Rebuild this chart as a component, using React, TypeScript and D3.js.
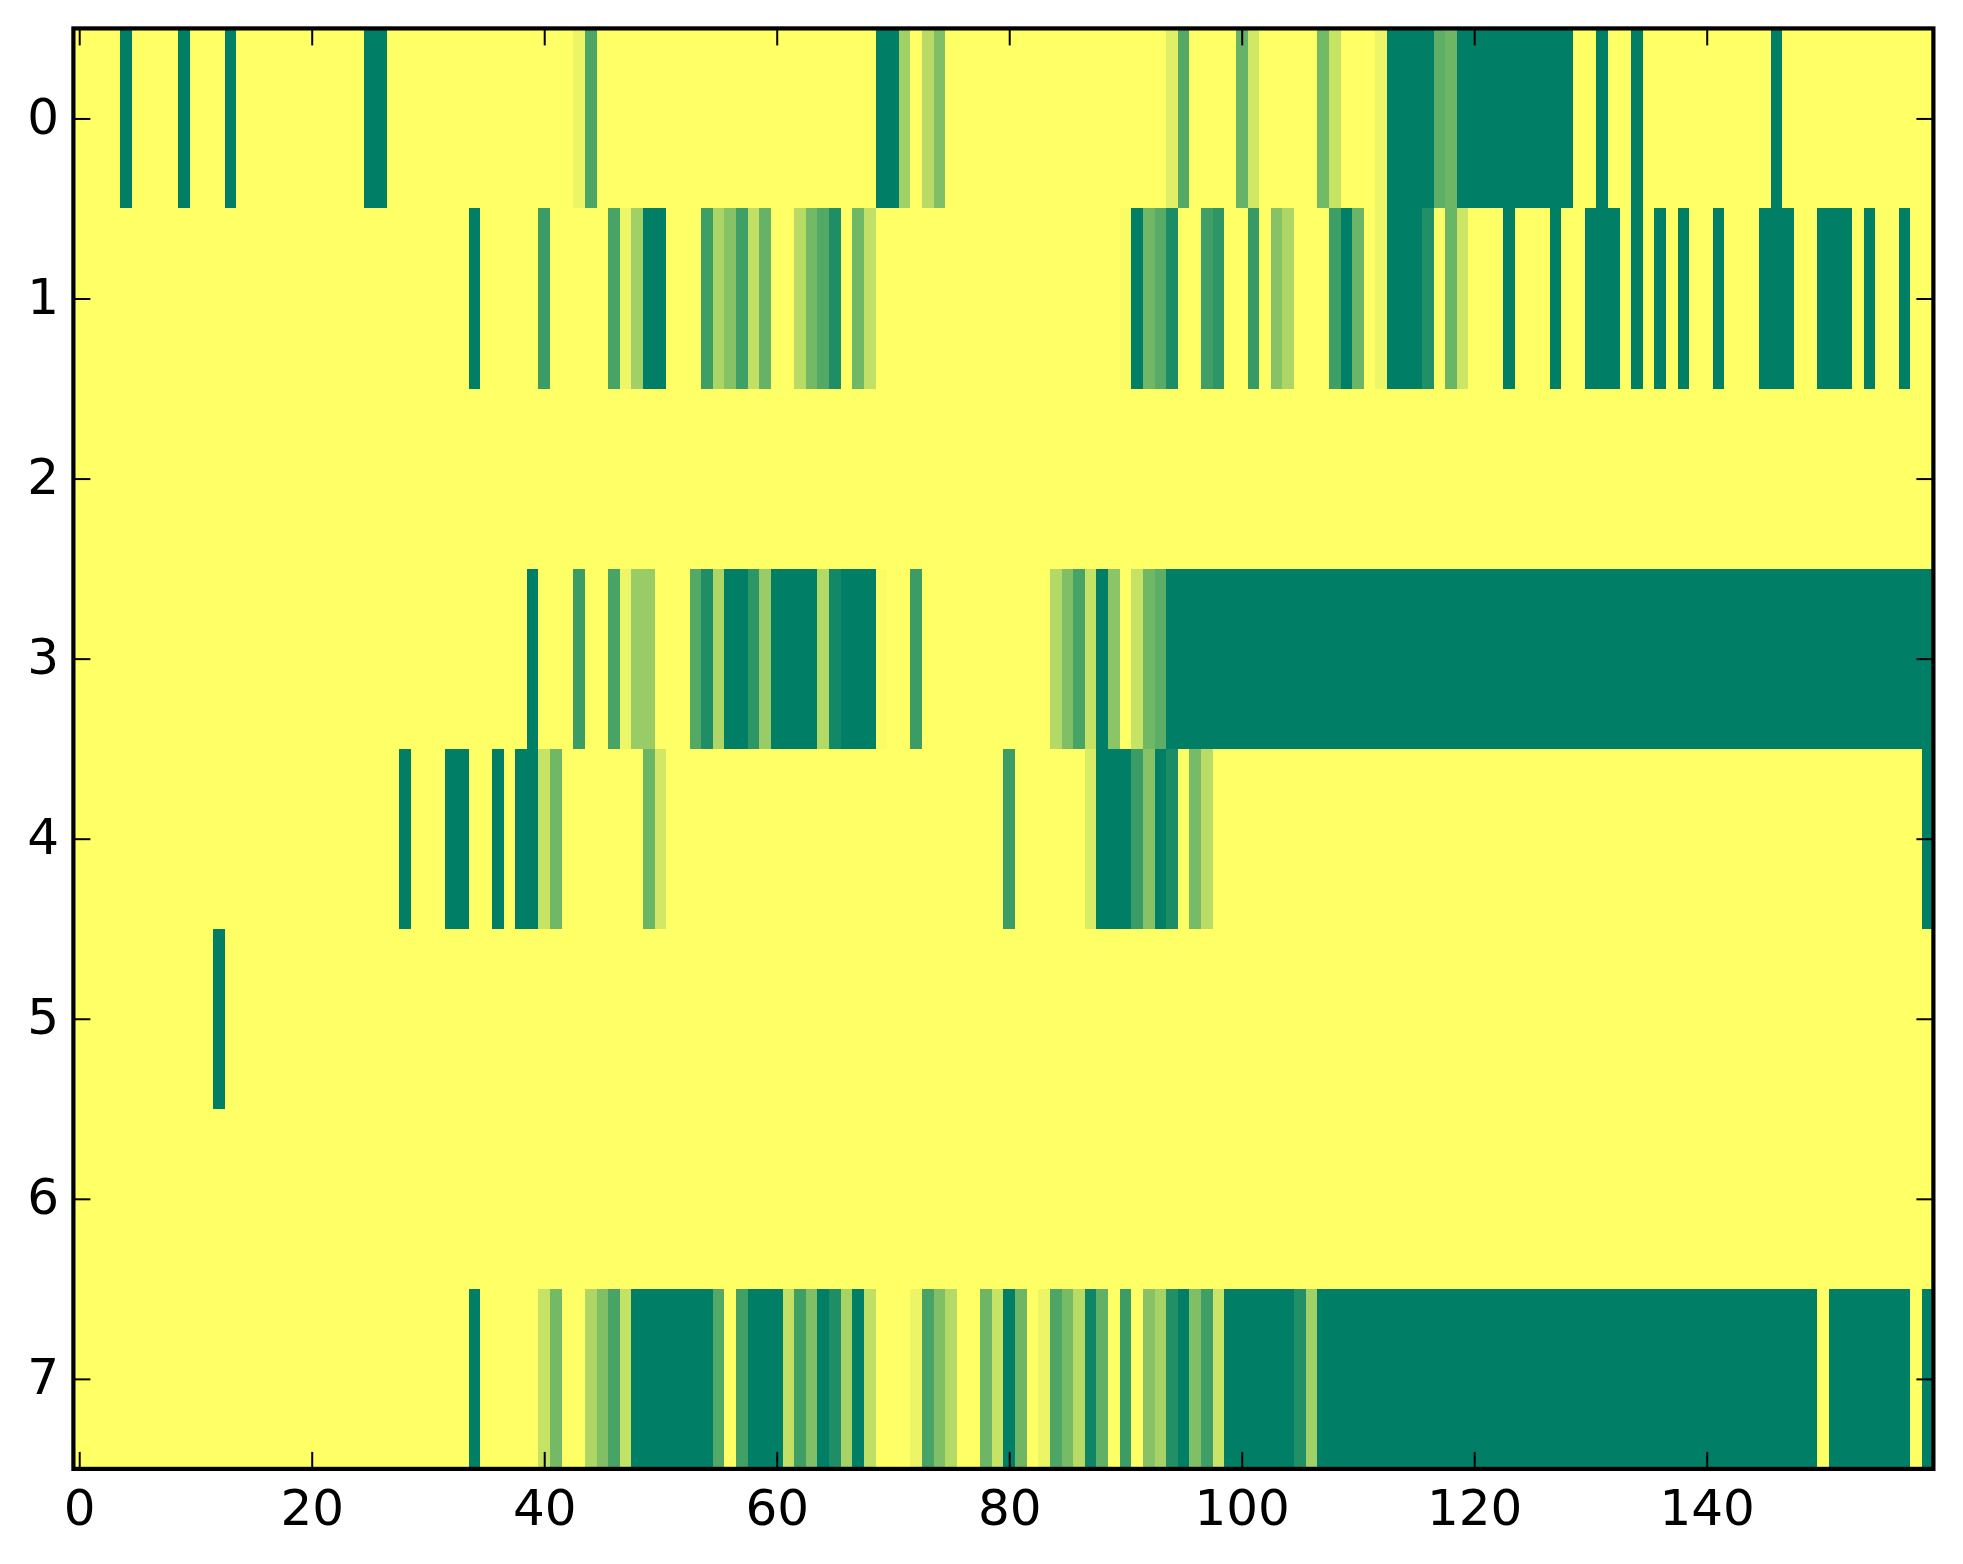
import * as React from 'react';
import * as d3 from 'd3';

// heatmap values, 0 = yellow end of the colormap, 1 = green end. 160 columns per row.
const row0 = [
  0, 0, 0, 0, 1, 0, 0, 0, 0, 1,
  0, 0, 0, 1, 0, 0, 0, 0, 0, 0,
  0, 0, 0, 0, 0, 1, 1, 0, 0, 0,
  0, 0, 0, 0, 0, 0, 0, 0, 0, 0,
  0, 0, 0, .08, .7, 0, 0, 0, 0, 0,
  0, 0, 0, 0, 0, 0, 0, 0, 0, 0,
  0, 0, 0, 0, 0, 0, 0, 0, 0, 1,
  1, .37, 0, .28, .5, 0, 0, 0, 0, 0,
  0, 0, 0, 0, 0, 0, 0, 0, 0, 0,
  0, 0, 0, 0, .12, .67, 0, 0, 0, 0,
  .6, .18, 0, 0, 0, 0, 0, .55, .22, 0,
  0, 0, .07, 1, 1, 1, 1, .63, .57, 1,
  1, 1, 1, 1, 1, 1, 1, 1, 1, 0,
  0, 1, 0, 0, 1, 0, 0, 0, 0, 0,
  0, 0, 0, 0, 0, 0, 1, 0, 0, 0,
  0, 0, 0, 0, 0, 0, 0, 0, 0, 0,
];
const row1 = [
  0, 0, 0, 0, 0, 0, 0, 0, 0, 0,
  0, 0, 0, 0, 0, 0, 0, 0, 0, 0,
  0, 0, 0, 0, 0, 0, 0, 0, 0, 0,
  0, 0, 0, 0, 1, 0, 0, 0, 0, 0,
  .77, 0, 0, 0, 0, 0, .72, .07, .37, 1,
  1, 0, 0, 0, .76, .33, .47, .75, .24, .6,
  0, 0, .28, .55, .68, .88, 0, .56, .24, 0,
  0, 0, 0, 0, 0, 0, 0, 0, 0, 0,
  0, 0, 0, 0, 0, 0, 0, 0, 0, 0,
  .02, 1, .56, .66, .9, 0, 0, .75, .82, 0,
  0, .79, 0, .47, .32, 0, 0, 0, .76, 1,
  .58, 0, .07, 1, 1, 1, .87, 0, .58, .2,
  0, 0, 0, 1, 0, 0, 0, 1, 0, 0,
  1, 1, 1, 0, 1, 0, 1, 0, 1, 0,
  0, 1, 0, 0, 0, 1, 1, 1, 0, 0,
  1, 1, 1, 0, 1, 0, 0, 1, 0, 0,
];
const row2 = new Array(160).fill(0);
const row3 = [
  0, 0, 0, 0, 0, 0, 0, 0, 0, 0,
  0, 0, 0, 0, 0, 0, 0, 0, 0, 0,
  0, 0, 0, 0, 0, 0, 0, 0, 0, 0,
  0, 0, 0, 0, 0, 0, 0, 0, 0, 1,
  0, 0, 0, .77, 0, 0, .72, .07, .4, .4,
  0, 0, 0, .67, .88, .32, 1, 1, .82, .4,
  1, 1, 1, 1, .3, .93, 1, 1, 1, .02,
  0, 0, .77, 0, 0, 0, 0, 0, 0, 0,
  0, 0, 0, 0, .3, .5, .72, .23, 1, .45,
  0, .22, .56, .64, 1, 1, 1, 1, 1, 1,
  1, 1, 1, 1, 1, 1, 1, 1, 1, 1,
  1, 1, 1, 1, 1, 1, 1, 1, 1, 1,
  1, 1, 1, 1, 1, 1, 1, 1, 1, 1,
  1, 1, 1, 1, 1, 1, 1, 1, 1, 1,
  1, 1, 1, 1, 1, 1, 1, 1, 1, 1,
  1, 1, 1, 1, 1, 1, 1, 1, 1, 1,
];
const row4 = [
  0, 0, 0, 0, 0, 0, 0, 0, 0, 0,
  0, 0, 0, 0, 0, 0, 0, 0, 0, 0,
  0, 0, 0, 0, 0, 0, 0, 0, 1, 0,
  0, 0, 1, 1, 0, 0, 1, 0, 1, 1,
  .22, .56, 0, 0, 0, 0, 0, 0, 0, .58,
  .18, 0, 0, 0, 0, 0, 0, 0, 0, 0,
  0, 0, 0, 0, 0, 0, 0, 0, 0, 0,
  0, 0, 0, 0, 0, 0, 0, 0, 0, 0,
  .77, 0, 0, 0, 0, 0, 0, .15, 1, 1,
  1, .77, .47, 1, .9, 0, .53, .27, 0, 0,
  0, 0, 0, 0, 0, 0, 0, 0, 0, 0,
  0, 0, 0, 0, 0, 0, 0, 0, 0, 0,
  0, 0, 0, 0, 0, 0, 0, 0, 0, 0,
  0, 0, 0, 0, 0, 0, 0, 0, 0, 0,
  0, 0, 0, 0, 0, 0, 0, 0, 0, 0,
  0, 0, 0, 0, 0, 0, 0, 0, 0, 1,
];
const row5 = [
  0, 0, 0, 0, 0, 0, 0, 0, 0, 0,
  0, 0, 1, 0, 0, 0, 0, 0, 0, 0,
  ...new Array(140).fill(0),
];
const row6 = new Array(160).fill(0);
const row7 = [
  0, 0, 0, 0, 0, 0, 0, 0, 0, 0,
  0, 0, 0, 0, 0, 0, 0, 0, 0, 0,
  0, 0, 0, 0, 0, 0, 0, 0, 0, 0,
  0, 0, 0, 0, 1, 0, 0, 0, 0, 0,
  .22, .55, 0, 0, .32, .5, .72, .23, 1, 1,
  1, 1, 1, 1, 1, .67, 0, .74, 1, 1,
  1, .24, .75, .5, 1, .88, .35, 1, .25, 0,
  0, 0, .08, .72, .5, .3, 0, 0, .57, .22,
  1, .57, 0, .08, .7, .53, .28, .95, .62, 0,
  .77, 0, .47, .35, .87, 1, .5, .75, .21, 1,
  1, 1, 1, 1, 1, .87, .37, 1, 1, 1,
  1, 1, 1, 1, 1, 1, 1, 1, 1, 1,
  1, 1, 1, 1, 1, 1, 1, 1, 1, 1,
  1, 1, 1, 1, 1, 1, 1, 1, 1, 1,
  1, 1, 1, 1, 1, 1, 1, 1, 1, 1,
  0, 1, 1, 1, 1, 1, 1, 1, 0, 1,
];
const rows = [row0, row1, row2, row3, row4, row5, row6, row7];
const xTicks = [0, 20, 40, 60, 80, 100, 120, 140];
const yTicks = [0, 1, 2, 3, 4, 5, 6, 7];

const WIDTH = 1963;
const HEIGHT = 1564;
const margin = { top: 28.42, right: 29.6, bottom: 95.1, left: 73.4 };
const TICK = 17;

export default function App() {
  const ref = React.useRef<SVGSVGElement>(null);

  React.useEffect(() => {
    const el = ref.current;
    if (!el) { return; }
    el.innerHTML = '';
    const svg = d3.select(el);

    const x = d3.scaleLinear().domain([-0.5, 159.5]).range([margin.left, WIDTH - margin.right]);
    const y = d3.scaleLinear().domain([-0.5, 7.5]).range([margin.top, HEIGHT - margin.bottom]);
    // summer_r
    const color = d3.scaleLinear<string>().domain([0, 1]).range(['#ffff66', '#007f66']);

    svg.append('g')
      .attr('shape-rendering', 'crispEdges')
      .selectAll('g')
      .data(rows)
      .enter().append('g')
        .attr('data-row', (_, r) => r)
        .each(function (values, r) {
          d3.select(this).selectAll('rect')
            .data(values)
            .enter().append('rect')
              .attr('x', (_, c) => x(c - 0.5))
              .attr('y', y(r - 0.5))
              .attr('width', (_, c) => x(c + 0.5) - x(c - 0.5))
              .attr('height', y(r + 0.5) - y(r - 0.5))
              .attr('fill', d => color(d as number));
        });

    const noLabel = () => '';
    const styleAxis = (g: d3.Selection<SVGGElement, unknown, null, undefined>) => {
      g.select('.domain').remove();
      g.selectAll('line').attr('stroke', '#000').attr('stroke-width', 2);
      g.selectAll('text')
        .attr('fill', '#000')
        .style('font-family', '"DejaVu Sans", sans-serif')
        .style('font-size', '50px');
    };

    svg.append('g')
      .attr('transform', `translate(0,${y(7.5)})`)
      .call(d3.axisBottom(x).tickValues(xTicks).tickSize(-TICK).tickPadding(20.5).tickFormat(d => `${d}`))
      .call(styleAxis);
    svg.append('g')
      .attr('transform', `translate(0,${y(-0.5)})`)
      .call(d3.axisTop(x).tickValues(xTicks).tickSize(-TICK).tickFormat(noLabel))
      .call(styleAxis);
    svg.append('g')
      .attr('transform', `translate(${x(-0.5)},0)`)
      .call(d3.axisLeft(y).tickValues(yTicks).tickSize(-TICK).tickPadding(14.4).tickFormat(d => `${d}`))
      .call(styleAxis)
      .selectAll('text').attr('dy', '0.3em');
    svg.append('g')
      .attr('transform', `translate(${x(159.5)},0)`)
      .call(d3.axisRight(y).tickValues(yTicks).tickSize(-TICK).tickFormat(noLabel))
      .call(styleAxis);

    svg.append('rect')
      .attr('x', x(-0.5))
      .attr('y', y(-0.5))
      .attr('width', x(159.5) - x(-0.5))
      .attr('height', y(7.5) - y(-0.5))
      .attr('fill', 'none')
      .attr('stroke', '#000')
      .attr('stroke-width', 4.2);
  }, []);

  return (
    <svg
      ref={ref}
      width={WIDTH}
      height={HEIGHT}
      style={{ position: 'absolute', left: 0, top: 0, background: '#fff' }}
    />
  );
}
